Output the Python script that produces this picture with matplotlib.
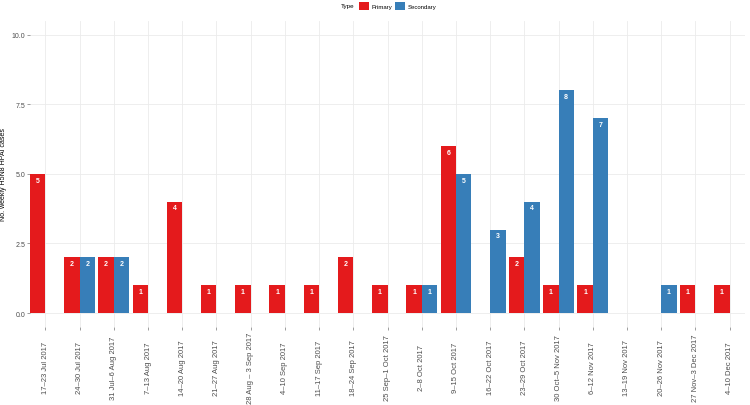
import numpy as np
import matplotlib.pyplot as plt
from matplotlib.patches import Patch

plt.rcParams['font.family'] = ['Liberation Sans', 'DejaVu Sans']

semanas = ['17–23 Jul 2017', '24–30 Jul 2017', '31 Jul–6 Aug 2017', '7–13 Aug 2017',
           '14–20 Aug 2017', '21–27 Aug 2017', '28 Aug – 3 Sep 2017', '4–10 Sep 2017',
           '11–17 Sep 2017', '18–24 Sep 2017', '25 Sep–1 Oct 2017', '2–8 Oct 2017',
           '9–15 Oct 2017', '16–22 Oct 2017', '23–29 Oct 2017', '30 Oct–5 Nov 2017',
           '6–12 Nov 2017', '13–19 Nov 2017', '20–26 Nov 2017', '27 Nov–3 Dec 2017',
           '4–10 Dec 2017']
primarios = [5, 2, 2, 1, 4, 1, 1, 1, 1, 2, 1, 1, 6, 0, 2, 1, 1, 0, 0, 1, 1]
secundarios = [0, 2, 2, 0, 0, 0, 0, 0, 0, 0, 0, 1, 5, 3, 4, 8, 7, 0, 1, 0, 0]
yticks = [0.0, 2.5, 5.0, 7.5, 10.0]

cor_prim = '#E41A1C'
cor_sec = '#377EB8'

fig = plt.figure(figsize=(7.5, 4.06), dpi=100)
ax = fig.add_axes([30 / 750, 78 / 406, 715 / 750, (328 - 21.8) / 406])

x = np.arange(len(semanas))
w = 0.45
b1 = ax.bar(x - w / 2, primarios, w, color=cor_prim, zorder=3)
b2 = ax.bar(x + w / 2, secundarios, w, color=cor_sec, zorder=3)

# rótulos brancos dentro das barras
for barras in (b1, b2):
    for r in barras:
        h = r.get_height()
        if h > 0:
            ax.annotate(str(int(h)), (r.get_x() + r.get_width() / 2, h),
                        xytext=(0, -4.5), textcoords='offset points',
                        ha='center', va='center', color='white',
                        fontsize=5, fontweight='bold', zorder=4)

ax.set_xlim(-0.45, len(semanas) - 0.55)
ax.set_ylim(-0.5, 10.5)
ax.set_yticks(yticks)
ax.set_yticklabels(['%.1f' % v for v in yticks])
ax.set_xticks(x)
ax.set_xticklabels(semanas, rotation=90, va='center')

ax.grid(True, which='major', color='#EBEBEB', linewidth=0.6, zorder=0)
for s in ax.spines.values():
    s.set_visible(False)
ax.tick_params(axis='both', which='major', colors='#555555',
               length=2.5, width=0.4, labelcolor='#4D4D4D')
ax.tick_params(axis='y', labelsize=5, pad=1)
ax.tick_params(axis='x', labelsize=5.5, pad=26.3)

# rótulo do eixo y
fig.text(3.5 / 750, 1 - 175 / 406, 'No. weekly H5N8 HPAI cases', fontsize=5,
         rotation=90, ha='center', va='center')

# legenda no topo
fig.text(341 / 750, 1 - 6.7 / 406, 'Type', fontsize=4.5, ha='left', va='center')
handles = [Patch(facecolor=cor_prim, label='Primary'),
           Patch(facecolor=cor_sec, label='Secondary')]
fig.legend(handles=handles, ncol=2, loc='center left',
           bbox_to_anchor=(358.5 / 750, 1 - 6.7 / 406), frameon=False,
           fontsize=4.3, handlelength=1.7, handleheight=1.7,
           handletextpad=0.4, columnspacing=0.5, borderaxespad=0,
           borderpad=0)

plt.savefig('out.png', dpi=100)
